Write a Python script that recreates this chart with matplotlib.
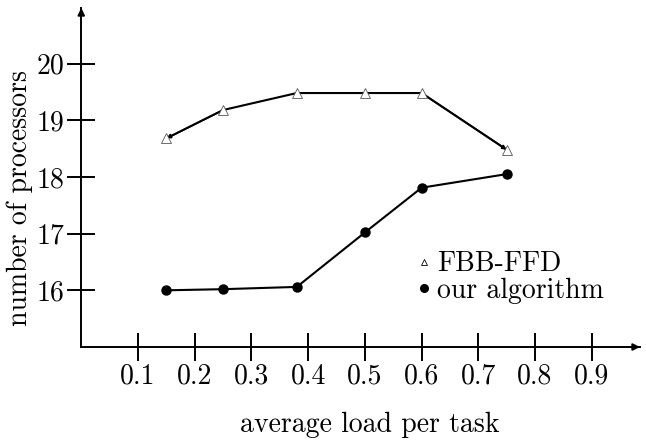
# 평균 부하에 따른 프로세서 수 비교

import matplotlib.pyplot as plt

plt.rcParams['font.family'] = ['cmr10', 'DejaVu Serif']
plt.rcParams['axes.formatter.use_mathtext'] = True
plt.rcParams['mathtext.fontset'] = 'cm'

# 데이터
load = [0.15, 0.25, 0.38, 0.5, 0.6, 0.75]
fbb_ffd = [18.68, 19.18, 19.48, 19.48, 19.48, 18.48]
ours = [16.0, 16.02, 16.06, 17.02, 17.81, 18.05]

x_ticks = [0.1, 0.2, 0.3, 0.4, 0.5, 0.6, 0.7, 0.8, 0.9]
x_tick_labels = ['0.1', '0.2', '0.3', '0.4', '0.5', '0.6', '0.7', '0.8', '0.9']
y_ticks = [16, 17, 18, 19, 20]
y_tick_labels = ['16', '17', '18', '19', '20']

FS = 20

fig = plt.figure(figsize=(6.46, 4.42), dpi=100)
ax = fig.add_axes([81.25 / 646, 95 / 442, 558.75 / 646, 339 / 442])
ax.set_xlim(0, 0.985)
ax.set_ylim(15, 20.98)

# 선 그리기
ax.plot(load, fbb_ffd, color='black', lw=1.5, zorder=2)
ax.plot(load, ours, color='black', lw=1.5, zorder=2)

# 양 끝 구간의 작은 화살촉 (삼각형 안으로 들어감)
for i, j in [(1, 0), (4, 5)]:
    ax.annotate('', xy=(load[j], fbb_ffd[j]), xytext=(load[i], fbb_ffd[i]),
                arrowprops=dict(arrowstyle='-|>', color='black', lw=1.2,
                                mutation_scale=6, shrinkA=0, shrinkB=0),
                zorder=2)

ax.plot(load, fbb_ffd, linestyle='none', marker='^', ms=7.5, mfc='white',
        mec='#555555', mew=0.6, zorder=3)
ax.plot(load, ours, linestyle='none', marker='o', ms=6.5, color='black', zorder=3)

# 범례용 핸들
h1, = ax.plot([], [], linestyle='none', marker='^', ms=5, mfc='white',
              mec='black', mew=0.6, label='FBB-FFD')
h2, = ax.plot([], [], linestyle='none', marker='o', ms=5.5, color='black',
              label='our algorithm')
ax.legend(handles=[h1, h2], loc='upper left', frameon=False, fontsize=FS,
          handlelength=0.4, handletextpad=0.3, labelspacing=0.0,
          borderaxespad=0, borderpad=0,
          bbox_to_anchor=((418 - 81.25) / 558.75, (347 - 251) / 339))

# 축 스타일
for side in ['top', 'right']:
    ax.spines[side].set_visible(False)
for side in ['left', 'bottom']:
    ax.spines[side].set_linewidth(1.4)

ax.annotate('', xy=(1, 0), xytext=(0.98, 0), xycoords='axes fraction',
            arrowprops=dict(arrowstyle='-|>', color='black', lw=1.4,
                            mutation_scale=10, shrinkA=0, shrinkB=0))
ax.annotate('', xy=(0, 1), xytext=(0, 0.98), xycoords='axes fraction',
            arrowprops=dict(arrowstyle='-|>', color='black', lw=1.4,
                            mutation_scale=10, shrinkA=0, shrinkB=0))

ax.set_xticks(x_ticks)
ax.set_xticklabels(x_tick_labels)
ax.set_yticks(y_ticks)
ax.set_yticklabels(y_tick_labels)
ax.tick_params(direction='inout', length=20, width=1.4, labelsize=FS)
ax.tick_params(axis='x', pad=2)
ax.tick_params(axis='y', pad=2)

ax.set_xlabel('average load per task', fontsize=FS, va='center')
ax.xaxis.set_label_coords((370 - 81.25) / 558.75, (347 - 425) / 339)
ax.set_ylabel('number of processors', fontsize=FS, va='center')
ax.yaxis.set_label_coords((20 - 81.25) / 558.75, (347 - 198) / 339)

fig.savefig('out.png', dpi=100)
